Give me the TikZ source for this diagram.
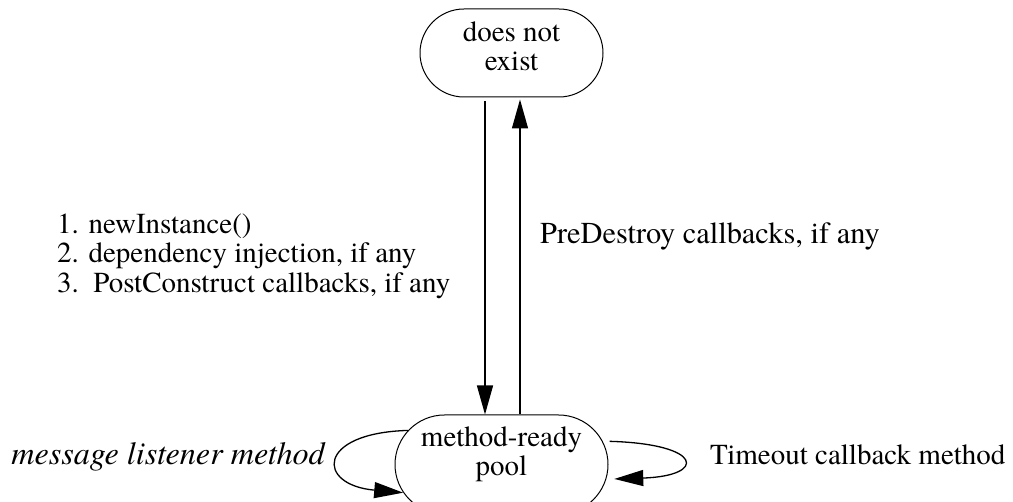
\documentclass[tikz,border=0pt]{standalone}
\usepackage{fontspec}
\setmainfont{texgyretermes}[Extension=.otf, UprightFont=*-regular, ItalicFont=*-italic, BoldFont=*-bold, BoldItalicFont=*-bolditalic]
\usetikzlibrary{arrows.meta,shapes.misc}
\begin{document}
\begin{tikzpicture}[x=1pt,y=1pt,
  state/.style={draw, line width=1pt, rounded rectangle, inner sep=0pt},
  arr/.style={line width=1.3pt, -{Triangle[length=29pt,width=16pt]}},
  txt/.style={font=\fontsize{29}{29.5}\selectfont, inner sep=0pt},
  itxt/.style={font=\fontsize{32.2}{32}\selectfont\itshape, inner sep=0pt},
]
\useasboundingbox (0,0) rectangle (1013,502);
\node[state, minimum width=183pt, minimum height=88pt,
  label={[txt, align=center, yshift=6.5pt, name=dnelbl]center:does not\\exist}] (dne) at (511.5,449) {};
\node[state, minimum width=213pt, minimum height=99pt,
  label={[txt, align=center, yshift=10.4pt, name=poollbl]center:method-ready\\pool}] (pool) at (501.5,37.5) {};
\coordinate (xd) at (485,0);
\coordinate (xu) at (520,0);
\draw[arr, shorten <=4pt] (dne.south -| xd) -- (pool.north -| xd);
\draw[arr, shorten >=2pt] (pool.north -| xu) -- (dne.south -| xu);
\node[txt, align=left, anchor=west] (steps) at (57,246)
  {1. newInstance()\\2. dependency injection, if any\\3.\ \ PostConstruct callbacks, if any};
\node[txt, font=\fontsize{30.4}{31}\selectfont, anchor=base west] (pre) at (540,258) {PreDestroy callbacks, if any};
\node[itxt, anchor=base east] (msg) at (325,37) {message listener method};
\node[txt, anchor=base west] (tmo) at (710,37) {Timeout callback method};
\draw[arr] (pool.160) .. controls (316,69) and (316,17) .. (pool.196.5);
\draw[arr, shorten <=7pt, shorten >=8pt] (pool.13.5) .. controls (704,58) and (707,26) .. (pool.-8.8);
\end{tikzpicture}
\end{document}
